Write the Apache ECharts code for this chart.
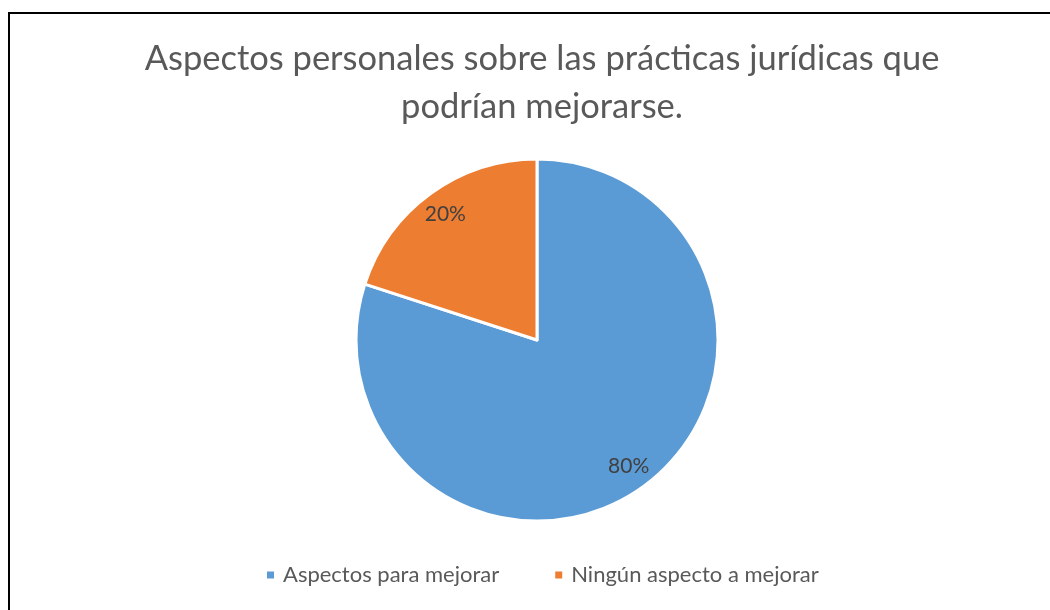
<!DOCTYPE html>
<html>
<head>
<meta charset="utf-8">
<script src="https://cdn.jsdelivr.net/npm/echarts@6/dist/echarts.min.js"></script>
<style>
  html, body { margin: 0; padding: 0; background: #fff; }
  #chart { width: 1050px; height: 610px; }
</style>
</head>
<body>
<div id="chart"></div>
<script>
// datos del gráfico
var categorias = ['Aspectos para mejorar', 'Ningún aspecto a mejorar'];
var valores = [80, 20];
var colores = ['#5B9BD5', '#ED7D31'];
var titulo = 'Aspectos personales sobre las prácticas jurídicas que\npodrían mejorarse.';

var fuente = 'Lato, "Open Sans", sans-serif';

var chart = echarts.init(document.getElementById('chart'));

var datosPie = categorias.map(function (c, i) {
    return { name: c, value: valores[i], itemStyle: { color: colores[i] } };
});

var option = {
    animation: false,
    title: {
        text: titulo,
        left: 537,
        top: 30,
        textAlign: 'center',
        textStyle: {
            fontFamily: fuente,
            fontSize: 34.5,
            fontWeight: 'normal',
            color: '#595959',
            lineHeight: 48,
            align: 'center'
        }
    },
    legend: {
        data: categorias,
        bottom: 19,
        left: 260,
        icon: 'rect',
        itemWidth: 9,
        itemHeight: 9,
        itemGap: 54,
        textStyle: { fontFamily: fuente, fontSize: 22, color: '#595959', padding: [0, 0, 0, 3] }
    },
    graphic: [{
        type: 'rect',
        shape: { x: 9, y: 13, width: 1100, height: 700 },
        style: { fill: 'none', stroke: '#000', lineWidth: 2 },
        silent: true
    }],
    series: [
        {
            type: 'pie',
            center: [537, 340],
            radius: [0, 181],
            startAngle: 90,
            clockwise: true,
            label: { show: false },
            labelLine: { show: false },
            itemStyle: { borderColor: '#fff', borderWidth: 3 },
            emphasis: { disabled: true },
            data: datosPie
        },
        {
            // anillo transparente solo para colocar las etiquetas
            type: 'pie',
            center: [537, 340],
            radius: [126, 180],
            startAngle: 90,
            clockwise: true,
            silent: true,
            itemStyle: { color: 'rgba(0,0,0,0)' },
            label: {
                show: true,
                position: 'inside',
                formatter: '{d}%',
                fontFamily: fuente,
                fontSize: 21,
                color: '#404040'
            },
            labelLine: { show: false },
            emphasis: { disabled: true },
            data: categorias.map(function (c, i) {
                return { name: c, value: valores[i] };
            })
        }
    ]
};

chart.setOption(option);
</script>
</body>
</html>
